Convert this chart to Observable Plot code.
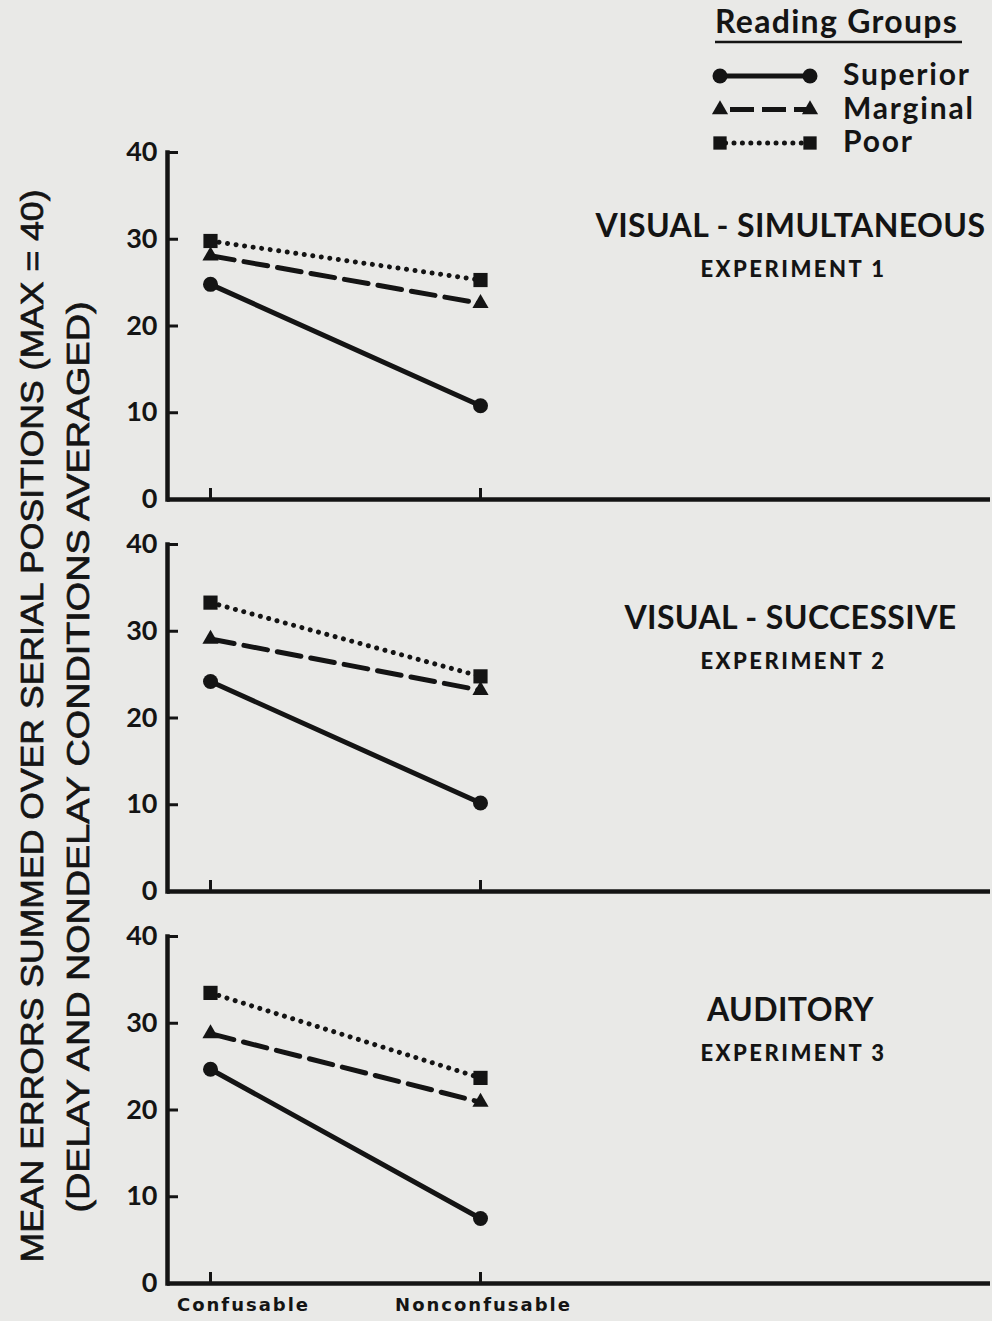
<!DOCTYPE html>
<html>
<head>
<meta charset="utf-8">
<script src="https://cdn.jsdelivr.net/npm/d3@7"></script>
<script src="https://cdn.jsdelivr.net/npm/@observablehq/plot@0.6"></script>
<style>
  html, body { margin: 0; padding: 0; background: #e9e9e7; }
  #wrap { position: relative; width: 992px; height: 1321px; overflow: hidden; background: #e9e9e7; }
  #chart { position: absolute; left: 0; top: 140px; }
  #legend, #ytitle { position: absolute; left: 0; top: 0; overflow: visible; }
</style>
</head>
<body>
<div id="wrap">
  <div id="chart"></div>
  <svg id="legend" width="992" height="160"></svg>
  <svg id="ytitle" width="130" height="1321"></svg>
</div>
<script>
// ---- data ----
const conditions = ["Confusable", "Nonconfusable"];
const groups = ["Superior", "Marginal", "Poor"];
const experiments = ["VISUAL - SIMULTANEOUS", "VISUAL - SUCCESSIVE", "AUDITORY"];
const experimentNumbers = ["EXPERIMENT 1", "EXPERIMENT 2", "EXPERIMENT 3"];
const yTicks = [0, 10, 20, 30, 40];
// per experiment: [Confusable, Nonconfusable]
const superiorErrors = [[24.8, 10.8], [24.2, 10.2], [24.7, 7.5]];
const marginalErrors = [[28.1, 22.6], [29.1, 23.2], [28.8, 20.9]];
const poorErrors     = [[29.8, 25.3], [33.3, 24.8], [33.5, 23.7]];
const yTitle1 = "MEAN ERRORS SUMMED OVER SERIAL POSITIONS (MAX = 40)";
const yTitle2 = "(DELAY AND NONDELAY CONDITIONS AVERAGED)";
const legendTitle = "Reading Groups";

const series = [superiorErrors, marginalErrors, poorErrors];
const rows = [];
experiments.forEach((e, i) => groups.forEach((g, j) => conditions.forEach((c, k) =>
  rows.push({experiment: e, number: experimentNumbers[i], group: g, condition: c, errors: series[j][i][k]}))));

const ink = "#141414";
const W = 992, H = 1181, mL = 167, mR = 2, mT = 11, mB = 38;
const frameW = W - mL - mR;
const bandH = 347;
const byGroup = g => rows.filter(d => d.group === g);
const lineStyle = {
  Superior: {strokeWidth: 5},
  Marginal: {strokeWidth: 5, strokeDasharray: "24 10"},
  Poor: {strokeWidth: 5, strokeDasharray: "0.01 8.6", strokeLinecap: "round"}
};
const dotR = {Superior: 7.5, Marginal: 6, Poor: 8};
const xLabelShift = [33, 3];
const xAxisStyle = {tickSize: 0, tickPadding: 15, label: null,
  fontSize: 18, fontWeight: 700, fontFamily: "DejaVu Sans", fill: ink};

const chart = Plot.plot({
  width: W, height: H,
  marginLeft: mL, marginRight: mR, marginTop: mT, marginBottom: mB,
  className: "fig",
  style: {background: "transparent", overflow: "visible", color: ink},
  x: {type: "point", domain: conditions, range: [210, 480], padding: 0, axis: null},
  y: {domain: [0, 40], axis: null},
  fy: {domain: experiments, paddingInner: 0.115, paddingOuter: 0, axis: null},
  symbol: {domain: groups, range: ["circle", "triangle", "square"]},
  marks: [
    Plot.frame({anchor: "left", stroke: ink, strokeWidth: 4.5}),
    Plot.ruleY([0], {stroke: ink, strokeWidth: 4.5}),
    Plot.ruleY(yTicks, {y: d => d, insetRight: frameW - 11, stroke: ink, strokeWidth: 3}),
    Plot.tickX(conditions, {x: d => d, insetTop: bandH - 11, stroke: ink, strokeWidth: 3}),
    Plot.axisY({ticks: yTicks, tickSize: 0, tickPadding: 10, label: null,
      fontSize: 27, fontWeight: 700, fontFamily: "Lato", fill: ink}),
    ...conditions.map((c, i) => Plot.axisX({ticks: [c], dx: xLabelShift[i], ...xAxisStyle})),
    ...groups.map(g => Plot.line(byGroup(g), {x: "condition", y: "errors", fy: "experiment",
      stroke: ink, ...lineStyle[g]})),
    ...groups.map(g => Plot.dot(byGroup(g), {x: "condition", y: "errors", fy: "experiment",
      symbol: "group", r: dotR[g], fill: ink, stroke: null})),
    Plot.text(experiments, {fy: d => d, text: d => d, frameAnchor: "top-left",
      dx: 790 - mL, dy: 74, textAnchor: "middle", lineAnchor: "middle",
      fontSize: 32, fontWeight: 700, fontFamily: "Lato", fill: ink}),
    Plot.text(experiments, {fy: d => d, text: (d, i) => experimentNumbers[i], frameAnchor: "top-left",
      dx: 793 - mL, dy: 117, textAnchor: "middle", lineAnchor: "middle",
      fontSize: 22, fontWeight: 900, fontFamily: "Lato", fill: ink})
  ]
});
document.getElementById("chart").appendChild(chart);
d3.select(chart).selectAll('g[aria-label="x-axis tick label"] text').attr("letter-spacing", "2");
d3.select(chart).selectAll('g[aria-label="text"] text').each(function () {
  d3.select(this).attr("letter-spacing", /EXPERIMENT/.test(this.textContent) ? "2.5" : "0.4");
});

// ---- legend ----
const leg = d3.select("#legend");
leg.append("text").attr("x", 715).attr("y", 33).text(legendTitle)
  .attr("font-family", "Lato").attr("font-weight", 700).attr("font-size", 32)
  .attr("letter-spacing", 1.3).attr("fill", ink);
leg.append("line").attr("x1", 715).attr("x2", 962).attr("y1", 42).attr("y2", 42)
  .attr("stroke", ink).attr("stroke-width", 2.5);
const symbols = {Superior: d3.symbolCircle, Marginal: d3.symbolTriangle, Poor: d3.symbolSquare};
groups.forEach((g, i) => {
  const y = 76 + i * 33.5;
  leg.append("line").attr("x1", 720).attr("x2", 810).attr("y1", y).attr("y2", y)
    .attr("stroke", ink).attr("stroke-width", 5)
    .attr("stroke-dasharray", g === "Marginal" ? "24 8" : g === "Poor" ? "0.01 8.4" : null)
    .attr("stroke-dashoffset", g === "Marginal" ? -10 : g === "Poor" ? -14 : 0)
    .attr("stroke-linecap", g === "Poor" ? "round" : "butt");
  const r = g === "Superior" ? 7.5 : g === "Marginal" ? 6 : 7.5;
  [720, 810].forEach(x => leg.append("path")
    .attr("d", d3.symbol(symbols[g], Math.PI * r * r)())
    .attr("transform", `translate(${x},${y})`).attr("fill", ink));
  leg.append("text").attr("x", 843).attr("y", y + 9).text(g)
    .attr("font-family", "Lato").attr("font-weight", 700).attr("font-size", 30)
    .attr("letter-spacing", 1.8).attr("fill", ink);
});

// ---- y title ----
const yt = d3.select("#ytitle");
[[yTitle1, 32, 726, 1073], [yTitle2, 78, 757, 911]].forEach(([t, x, y, len]) => {
  yt.append("text").attr("transform", `translate(${x},${y}) rotate(-90)`)
    .attr("text-anchor", "middle").attr("dominant-baseline", "central")
    .attr("font-family", "Liberation Sans").attr("font-size", 31).attr("fill", ink)
    .attr("stroke", ink).attr("stroke-width", 0.7)
    .attr("textLength", len).attr("lengthAdjust", "spacingAndGlyphs").text(t);
});
</script>
</body>
</html>
